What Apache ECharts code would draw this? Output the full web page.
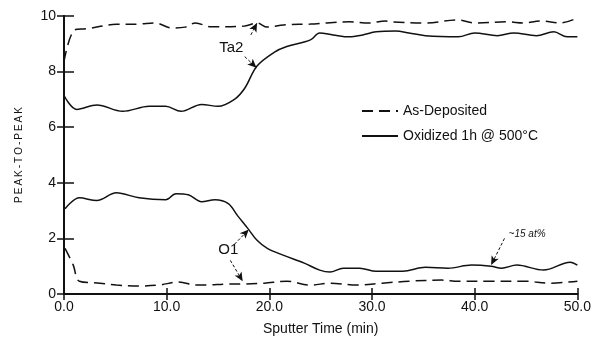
<!DOCTYPE html>
<html>
<head>
<meta charset="utf-8">
<script src="https://cdn.jsdelivr.net/npm/echarts@6/dist/echarts.min.js"></script>
<style>
  html, body { margin: 0; padding: 0; background: #fff; }
  #chart { width: 594px; height: 341px; }
</style>
</head>
<body>
<div id="chart"></div>
<script>
// Ta2 signal, as-deposited (dashed, top)
var ta2Deposited = [[0,8.36],[1.06,9.5],[2.2,9.54],[5.1,9.7],[7.3,9.71],[8.9,9.75],[10.5,9.57],[11.8,9.6],
  [12.8,9.75],[14.3,9.61],[17.6,9.64],[18.8,9.75],[19.8,9.6],[21.4,9.68],[24,9.71],[25.6,9.75],[27.8,9.79],
  [29.7,9.75],[31.3,9.82],[32,9.79],[35.2,9.75],[38.4,9.86],[40,9.75],[43.2,9.79],[44.8,9.75],[46.4,9.82],
  [48.4,9.75],[50,9.93]];
// Ta2 signal, oxidized (solid, top)
var ta2Oxidized = [[0,7.14],[1.25,6.64],[3.2,6.8],[5.7,6.57],[8.3,6.75],[9.9,6.75],[11.4,6.57],[13.4,6.82],
  [15,6.75],[16.6,7.0],[17.6,7.4],[18.8,8.2],[20.5,8.7],[21.7,8.9],[24,9.14],[24.9,9.39],[26.2,9.32],
  [27.8,9.25],[29.1,9.32],[30.4,9.43],[32.3,9.46],[33.6,9.39],[35.2,9.29],[38.4,9.25],[40,9.39],[42.2,9.29],
  [43.8,9.39],[46,9.29],[47.7,9.43],[49,9.25],[50,9.25]];
// O1 signal, oxidized (solid, bottom)
var o1Oxidized = [[0.1,3.07],[1.5,3.46],[3.2,3.36],[5.1,3.64],[7.3,3.46],[9.9,3.39],[10.9,3.61],[12.1,3.57],
  [13.4,3.32],[14.7,3.39],[16,3.25],[16.9,2.82],[17.9,2.36],[18.8,1.93],[19.8,1.64],[21.4,1.39],[23.4,1.11],
  [24.9,0.86],[25.9,0.79],[27.2,0.93],[28.8,0.93],[30.4,0.82],[33,0.82],[35.2,0.96],[37.4,0.93],[39.7,1.04],
  [41.6,1.0],[42.6,0.93],[44.1,1.04],[46.7,0.86],[49.3,1.14],[50,1.04]];
// O1 signal, as-deposited (dashed, bottom)
var o1Deposited = [[0.1,1.64],[0.9,1.04],[1.5,0.46],[3.5,0.39],[5.1,0.32],[7.3,0.29],[9.2,0.32],[11.2,0.43],
  [12.8,0.32],[13.8,0.32],[16,0.36],[17.6,0.36],[19.5,0.39],[21.7,0.46],[24,0.32],[25.9,0.39],[28.5,0.32],
  [31,0.39],[33.6,0.46],[36.8,0.5],[38.4,0.46],[41.6,0.46],[44.8,0.46],[47.4,0.39],[50,0.46]];

var seriesNames = ['As-Deposited', 'Oxidized 1h @ 500°C'];
var xTicks = [0, 10, 20, 30, 40, 50];
var yTicks = [0, 2, 4, 6, 8, 10];

// annotation labels and arrows, in data units
var notes = [
  { text: 'Ta2', at: [16.3, 8.86], size: 15, italic: false },
  { text: 'O1', at: [16.0, 1.57], size: 15, italic: false },
  { text: '~15 at%', at: [45.1, 2.14], size: 10, italic: true }
];
var arrows = [
  [[18.2, 9.32], [18.8, 9.75]],
  [[17.6, 8.54], [18.75, 8.14]],
  [[16.6, 1.79], [18.0, 2.32]],
  [[16.2, 1.21], [17.4, 0.46]],
  [[42.9, 2.0], [41.6, 1.04]]
];

var ink = '#111';
var font = "'Liberation Sans', Arial, sans-serif";
var dash = [11, 6];

var myChart = echarts.init(document.getElementById('chart'));

function lineSeries(name, data, dashed) {
  return {
    name: name,
    type: 'line',
    data: data,
    symbol: 'none',
    smooth: 0.35,
    silent: true,
    lineStyle: { color: ink, width: 1.5, type: dashed ? dash : 'solid' },
    itemStyle: { color: ink }
  };
}

var series = [
  lineSeries(seriesNames[0], ta2Deposited, true),
  lineSeries(seriesNames[1], ta2Oxidized, false),
  lineSeries(seriesNames[1], o1Oxidized, false),
  lineSeries(seriesNames[0], o1Deposited, true)
];

// arrows ride on the first series as mark lines
series[0].markLine = {
  silent: true,
  symbol: ['none', 'arrow'],
  symbolSize: [6, 9],
  label: { show: false },
  lineStyle: { color: ink, width: 1, type: [3, 2] },
  data: arrows.map(function (a) {
    return [{ coord: a[0] }, { coord: a[1] }];
  })
};

var option = {
  animation: false,
  backgroundColor: '#fff',
  grid: { left: 64, right: 10, top: 16, bottom: 45, containLabel: false },
  legend: {
    orient: 'vertical',
    left: 356,
    top: 99,
    itemWidth: 36,
    itemHeight: 10,
    itemGap: 11,
    data: seriesNames,
    itemStyle: { opacity: 0 },
    textStyle: { color: ink, fontFamily: font, fontSize: 14 }
  },
  xAxis: [{
    type: 'value',
    min: xTicks[0],
    max: xTicks[xTicks.length - 1],
    interval: 10,
    name: 'Sputter Time (min)',
    nameLocation: 'middle',
    nameGap: 28,
    nameTextStyle: { color: ink, fontFamily: font, fontSize: 14 },
    axisLine: { lineStyle: { color: ink, width: 2 } },
    axisTick: { inside: true, length: 6, lineStyle: { color: ink, width: 1.5 } },
    axisLabel: {
      color: ink, fontFamily: font, fontSize: 14, margin: 6,
      formatter: function (v) { return v.toFixed(1); }
    },
    splitLine: { show: false }
  }, {
    type: 'value',
    position: 'top',
    min: xTicks[0],
    max: xTicks[xTicks.length - 1],
    interval: 10,
    axisLine: { lineStyle: { color: ink, width: 2 } },
    axisTick: { inside: true, length: 6, lineStyle: { color: ink, width: 1.5 } },
    axisLabel: { show: false },
    splitLine: { show: false }
  }],
  yAxis: [{
    type: 'value',
    min: yTicks[0],
    max: yTicks[yTicks.length - 1],
    interval: 2,
    name: 'P\u2009E\u2009A\u2009K\u2009-\u2009T\u2009O\u2009-\u2009P\u2009E\u2009A\u2009K',
    nameLocation: 'middle',
    nameGap: 40,
    nameTextStyle: { color: ink, fontFamily: font, fontSize: 10 },
    axisLine: { lineStyle: { color: ink, width: 2 } },
    axisTick: { inside: true, length: 10, lineStyle: { color: ink, width: 1.5 } },
    axisLabel: { color: ink, fontFamily: font, fontSize: 14, margin: 8 },
    splitLine: { show: false }
  }, {
    type: 'value',
    position: 'right',
    min: yTicks[0],
    max: yTicks[yTicks.length - 1],
    interval: 2,
    axisLine: { show: true, lineStyle: { color: ink, width: 2 } },
    axisTick: { show: true, inside: true, length: 7, lineStyle: { color: ink, width: 1.5 } },
    axisLabel: { show: false },
    splitLine: { show: false }
  }],
  series: series
};

myChart.setOption(option);

// text notes placed through the axes' own scales
myChart.setOption({
  graphic: notes.map(function (n) {
    var p = myChart.convertToPixel({ xAxisIndex: 0, yAxisIndex: 0 }, n.at);
    return {
      type: 'text',
      x: p[0],
      y: p[1],
      silent: true,
      style: {
        text: n.text,
        fill: ink,
        font: (n.italic ? 'italic ' : '') + n.size + 'px ' + font,
        align: 'center',
        verticalAlign: 'middle'
      }
    };
  })
});
</script>
</body>
</html>
